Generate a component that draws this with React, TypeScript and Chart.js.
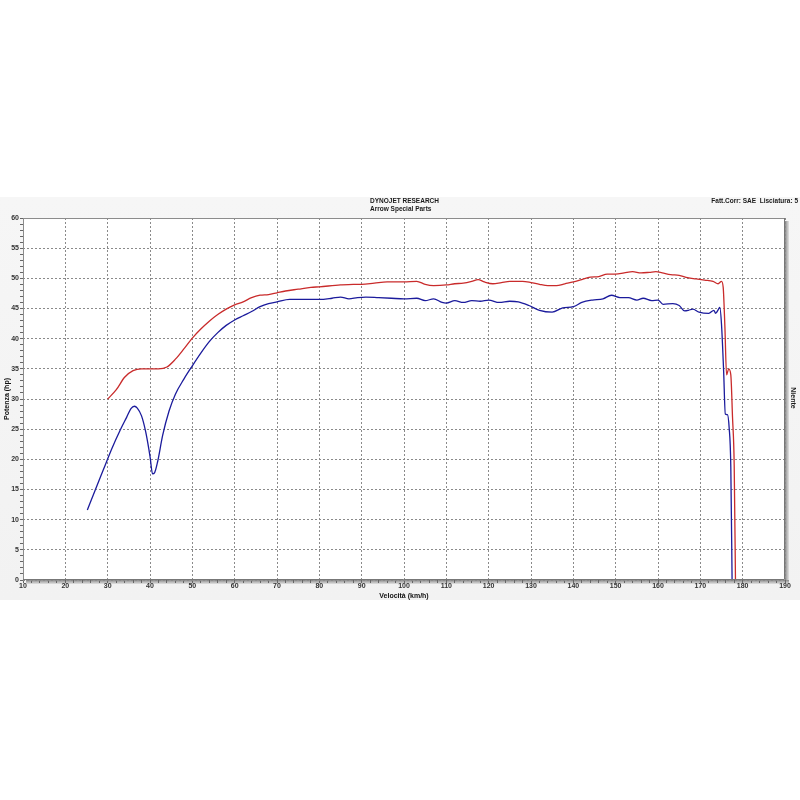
import React, { useEffect, useRef } from 'react';
import { Chart, registerables } from 'chart.js';

Chart.register(...registerables);

// Red curve: speed (km/h) and power (hp)
const redSpeed = [30, 32, 34, 36, 38, 40, 42, 44, 46, 48, 50, 52, 54, 56, 58, 60, 62, 64, 66, 68, 70, 72, 75, 78, 80, 85, 88, 90, 93, 96, 100, 103, 105, 107, 110, 112, 114, 116, 117.5, 119, 121, 123, 125, 128, 130, 132, 134, 136, 138, 140, 142, 144, 146, 148, 150, 152, 154, 156, 158, 159.5, 161, 163, 165, 167, 169, 171, 173, 174.2, 175, 175.4, 175.8, 176.2, 176.7, 177.2, 177.6, 178, 178.3];
const redPower = [30.0, 31.5, 33.6, 34.7, 35.0, 35.0, 35.0, 35.3, 36.6, 38.3, 40.1, 41.6, 42.9, 44.0, 44.9, 45.6, 46.1, 46.8, 47.2, 47.3, 47.6, 47.9, 48.2, 48.5, 48.6, 48.9, 49.0, 49.0, 49.2, 49.4, 49.4, 49.5, 49.0, 48.8, 48.9, 49.1, 49.2, 49.5, 49.8, 49.4, 49.1, 49.3, 49.5, 49.5, 49.3, 49.0, 48.8, 48.8, 49.1, 49.4, 49.8, 50.2, 50.3, 50.7, 50.7, 50.9, 51.1, 50.9, 51.0, 51.1, 50.9, 50.6, 50.5, 50.1, 49.9, 49.7, 49.5, 49.1, 49.5, 48.5, 42.0, 34.0, 35.0, 34.0, 27.0, 19.0, 0];

// Blue curve: speed (km/h) and power (hp)
const blueSpeed = [25.2, 27, 29, 31, 33, 34.5, 35.5, 36.3, 37, 38, 39, 40, 40.6, 41.1, 41.8, 43, 44.5, 46, 48, 50, 52, 54, 56, 58, 60, 62, 64, 66, 68, 70, 73, 76, 80, 83, 85, 87, 89, 91, 94, 97, 100, 103, 105, 107, 109, 110, 112, 114, 116, 118, 120, 122.5, 125, 127, 129.5, 132, 135, 137.5, 140, 142, 144.5, 147, 149, 151, 153, 155, 156.5, 158.5, 160, 161.2, 163.5, 165, 166.3, 167.2, 168.2, 169.7, 172, 173.2, 173.6, 174.3, 174.6, 175, 175.5, 175.9, 176.4, 176.8, 177.2, 177.5];
const bluePower = [11.6, 14.8, 18.3, 21.8, 24.9, 27.0, 28.4, 28.8, 28.5, 27.2, 24.5, 20.5, 17.6, 17.8, 19.6, 24.0, 28.0, 30.8, 33.3, 35.5, 37.6, 39.5, 41.0, 42.2, 43.1, 43.8, 44.5, 45.3, 45.8, 46.1, 46.5, 46.5, 46.5, 46.7, 46.9, 46.6, 46.8, 46.9, 46.8, 46.7, 46.6, 46.7, 46.3, 46.6, 46.0, 45.9, 46.3, 46.0, 46.3, 46.2, 46.4, 46.0, 46.2, 46.1, 45.5, 44.7, 44.4, 45.1, 45.3, 46.0, 46.4, 46.6, 47.2, 46.8, 46.8, 46.4, 46.7, 46.3, 46.4, 45.7, 45.8, 45.5, 44.6, 44.7, 44.9, 44.4, 44.2, 44.7, 44.2, 44.9, 45.2, 42.4, 34.7, 27.5, 27.4, 25.3, 18.7, 0];

const xRange = [10, 190];
const yRange = [0, 60];

const headerTitle = 'DYNOJET RESEARCH';
const headerSubtitle = 'Arrow Special Parts';
const headerRight = 'Fatt.Corr: SAE  Lisciatura: 5';
const rightLabel = 'Niente';
const xTitle = 'Velocità (km/h)';
const yTitle = 'Potenza (hp)';

const FONT = '"Liberation Sans", Arial, sans-serif';

const decorPlugin = {
  id: 'decor',
  beforeDraw(chart: any) {
    const { ctx, width, height, chartArea: a } = chart;
    ctx.save();
    ctx.fillStyle = '#ffffff';
    ctx.fillRect(0, 0, width, height);
    const g = ctx.createLinearGradient(0, 197, 0, 600);
    g.addColorStop(0, '#f6f6f6');
    g.addColorStop(1, '#f2f2f2');
    ctx.fillStyle = g;
    ctx.fillRect(0, 197, width, 403);
    // shadow right
    const gr = ctx.createLinearGradient(a.right, 0, a.right + 4, 0);
    gr.addColorStop(0, '#8a8a8a');
    gr.addColorStop(1, '#e2e2e2');
    ctx.fillStyle = gr;
    ctx.fillRect(a.right, a.top + 3, 4, a.bottom - a.top + 1);
    const gb = ctx.createLinearGradient(0, a.bottom, 0, a.bottom + 4);
    gb.addColorStop(0, '#8a8a8a');
    gb.addColorStop(1, '#e2e2e2');
    ctx.fillStyle = gb;
    ctx.fillRect(a.left + 3, a.bottom, a.right - a.left + 1, 4);
    ctx.fillStyle = '#ffffff';
    ctx.fillRect(a.left, a.top, a.right - a.left, a.bottom - a.top);
    ctx.restore();
  },
  afterDraw(chart: any) {
    const { ctx, chartArea: a } = chart;
    ctx.save();
    ctx.strokeStyle = '#8c8c8c';
    ctx.lineWidth = 1;
    ctx.beginPath();
    ctx.moveTo(a.left + 0.5, a.bottom);
    ctx.lineTo(a.left + 0.5, a.top + 0.5);
    ctx.lineTo(a.right, a.top + 0.5);
    ctx.stroke();
    ctx.strokeStyle = '#777';
    ctx.beginPath();
    ctx.moveTo(a.right - 0.5, a.top);
    ctx.lineTo(a.right - 0.5, a.bottom - 0.5);
    ctx.lineTo(a.left, a.bottom - 0.5);
    ctx.stroke();

    ctx.fillStyle = '#1a1a1a';
    ctx.textBaseline = 'middle';
    ctx.font = `bold 6.5px ${FONT}`;
    ctx.textAlign = 'left';
    ctx.fillText(headerTitle, 370, 201);
    ctx.fillText(headerSubtitle, 370, 209);
    ctx.textAlign = 'right';
    ctx.fillText(headerRight, 798, 201);
    ctx.font = `bold 7px ${FONT}`;
    ctx.translate(793, 398);
    ctx.rotate(Math.PI / 2);
    ctx.textAlign = 'center';
    ctx.fillText(rightLabel, 0, 0);
    ctx.restore();
  },
};

export default function App() {
  const ref = useRef<HTMLCanvasElement | null>(null);

  useEffect(() => {
    if (!ref.current) return;
    const chart = new Chart(ref.current, {
      type: 'line',
      data: {
        datasets: [
          {
            label: 'Red',
            data: redSpeed.map((x, i) => ({ x, y: redPower[i] })),
            borderColor: '#c92b2b',
            borderWidth: 1.3,
            pointRadius: 0,
            cubicInterpolationMode: 'monotone',
          },
          {
            label: 'Blue',
            data: blueSpeed.map((x, i) => ({ x, y: bluePower[i] })),
            borderColor: '#1b1b9c',
            borderWidth: 1.3,
            pointRadius: 0,
            cubicInterpolationMode: 'monotone',
          },
        ],
      },
      options: {
        responsive: false,
        animation: false,
        events: [],
        layout: { padding: { top: 218, right: 15, left: 0, bottom: 0 } },
        plugins: { legend: { display: false }, tooltip: { enabled: false } },
        scales: {
          x: {
            type: 'linear',
            min: xRange[0],
            max: xRange[1],
            afterFit: (s: any) => { s.height = 220; },
            ticks: {
              stepSize: 2,
              autoSkip: false,
              maxRotation: 0,
              maxTicksLimit: 200,
              padding: -1,
              color: '#333',
              font: { family: FONT, size: 7, weight: 'bold' },
              callback: (v: any) => (Number(v) % 10 === 0 ? String(v) : ''),
            },
            grid: {
              color: (c: any) => (c.tick && c.tick.value % 10 === 0 ? '#8a8a8a' : 'rgba(0,0,0,0)'),
              tickColor: '#666',
              tickLength: 3,
              lineWidth: 1,
            },
            border: { display: false, dash: [2, 2] },
            title: {
              display: true,
              text: xTitle,
              color: '#111',
              font: { family: FONT, size: 7, weight: 'bold' },
              padding: { top: 0, bottom: 200 },
            },
          },
          y: {
            type: 'linear',
            min: yRange[0],
            max: yRange[1],
            afterFit: (s: any) => { s.width = 23; },
            ticks: {
              stepSize: 1,
              autoSkip: false,
              maxTicksLimit: 100,
              padding: 1,
              color: '#333',
              font: { family: FONT, size: 7, weight: 'bold' },
              callback: (v: any) => (Number(v) % 5 === 0 ? String(v) : ''),
            },
            grid: {
              color: (c: any) => (c.tick && c.tick.value % 5 === 0 ? '#8a8a8a' : 'rgba(0,0,0,0)'),
              tickColor: '#666',
              tickLength: 3,
              lineWidth: 1,
            },
            border: { display: false, dash: [2, 2] },
            title: {
              display: true,
              text: yTitle,
              color: '#111',
              font: { family: FONT, size: 7, weight: 'bold' },
              padding: { top: 3, bottom: 0 },
            },
          },
        },
      } as any,
      plugins: [decorPlugin],
    });
    return () => chart.destroy();
  }, []);

  return (
    <div style={{ position: 'absolute', left: 0, top: 0, width: 800, height: 800 }}>
      <canvas ref={ref} width={800} height={800} style={{ width: 800, height: 800, display: 'block' }} />
    </div>
  );
}
